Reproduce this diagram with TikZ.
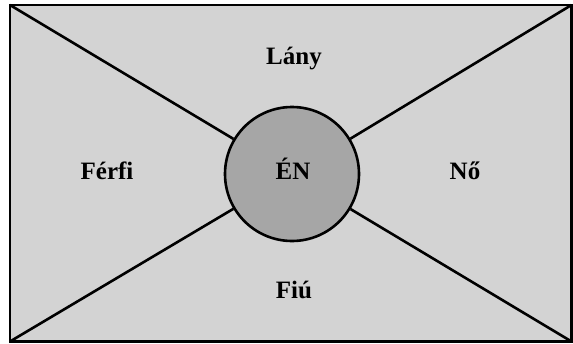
\documentclass[tikz,border=0pt]{standalone}
\usepackage{fontspec}
\setmainfont{Liberation Serif}
\definecolor{bgray}{HTML}{D3D3D3}
\definecolor{cgray}{HTML}{A6A6A6}
\begin{document}
\begin{tikzpicture}[x=1pt,y=-1pt,
  lbl/.style={font=\fontsize{25}{28}\selectfont\bfseries, anchor=base, inner sep=0pt},
  ln/.style={line width=2.6pt, black}]
\useasboundingbox (0,0) rectangle (573,343);
\coordinate (tl) at (10,5);
\coordinate (tr) at (571.5,5);
\coordinate (bl) at (10,341.5);
\coordinate (br) at (571.5,341.5);
\draw[ln, fill=bgray] (tl) rectangle (br);
\node[circle, minimum size=134pt, inner sep=0pt, draw, line width=2.6pt, fill=cgray] (c) at (292,174) {};
\draw[ln] (tl) -- (c);
\draw[ln] (tr) -- (c);
\draw[ln] (bl) -- (c);
\draw[ln] (br) -- (c);
\node[lbl] (en) at (293,179) {ÉN};
\node[lbl] (lany) at (294,64) {Lány};
\node[lbl] (fiu) at (294,298) {Fiú};
\node[lbl] (ferfi) at (107,179) {Férfi};
\node[lbl] (no) at (465,179) {Nő};
\end{tikzpicture}
\end{document}
